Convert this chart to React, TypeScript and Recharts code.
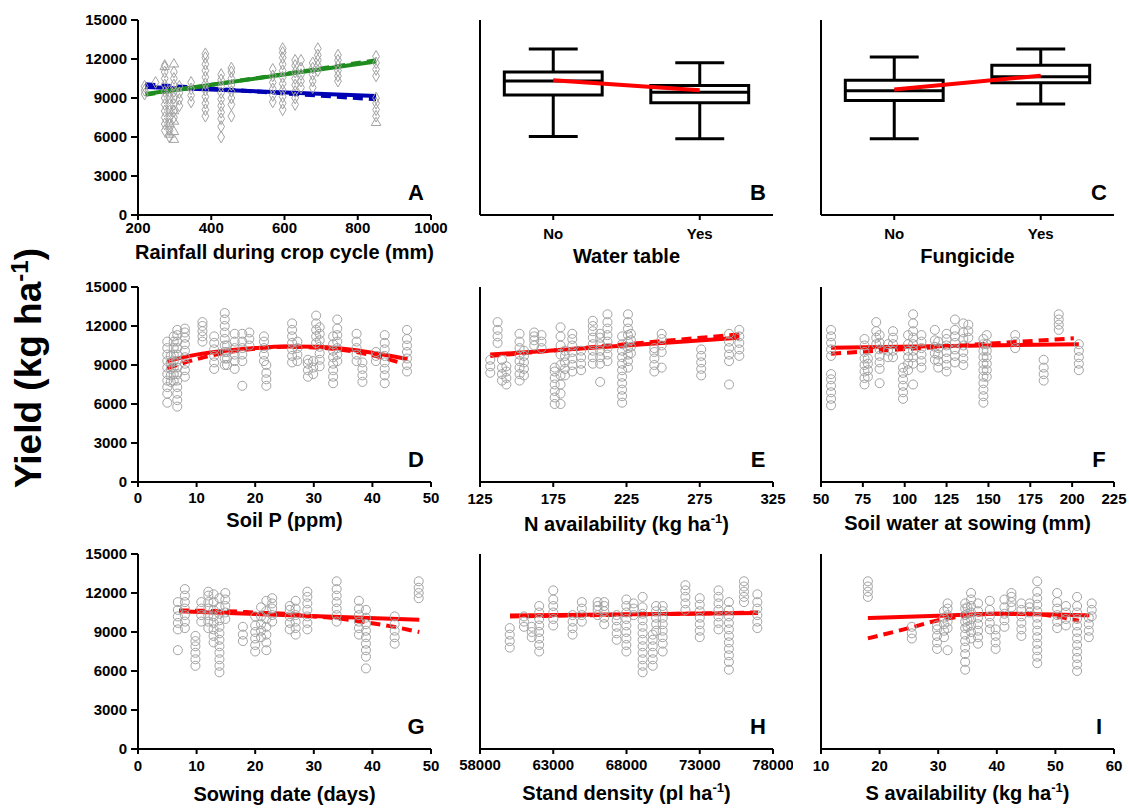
import React from "react";
import { ComposedChart, Scatter, Line, XAxis, YAxis, ZAxis, ReferenceArea, ReferenceLine } from "recharts";

type Cluster = [number, number[]];
type Pt = [number, number];

const FONT = '"Liberation Sans", Arial, sans-serif';
const COLS = [138, 480, 821];
const ROWS = [20, 287, 554];
const PW = 293;
const PH = 195;

const yieldTicks = [0, 3000, 6000, 9000, 12000, 15000];

// A: rainfall during crop cycle
const rainfallTicks = [200, 400, 600, 800, 1000];
const rainfallDiamonds: Cluster[] = [
  [218, [9300, 9600, 9900]],
  [248, [10200]],
  [273, [6500, 7000, 7500, 8000, 8500, 9000, 9500, 10000, 10500, 11000, 11500]],
  [286, [6000, 6500, 7000, 7500, 8000, 8500, 9000, 9500]],
  [298, [7500, 8000, 8500, 9000, 9500, 10000, 10500, 11000]],
  [313, [8400, 8900, 9400, 9900]],
  [345, [8700, 9200, 9700, 10200]],
  [384, [7600, 8100, 8600, 9100, 9600, 10100, 10600, 11100, 11600, 12100, 12400]],
  [427, [6000, 6800, 7400, 7900, 8400, 8900, 9400, 9900, 10400, 10800]],
  [455, [7600, 8500, 9000, 9500, 10000, 10500, 11000, 11300]],
  [568, [8700, 9200, 9700, 10200, 10700, 11200]],
  [595, [8100, 8600, 9100, 9600, 10100, 10600, 11100, 11600, 12100, 12500, 12800]],
  [629, [8500, 9000, 9500, 10000, 10500, 11000, 11500, 11900]],
  [645, [9800, 10300, 10800, 11300, 11900]],
  [677, [9800, 10300, 10800, 11300, 11700]],
  [691, [11100, 11500, 11900, 12300, 12800]],
  [746, [10300, 10700, 11100, 11500, 11900, 12300]],
  [850, [7600, 8100, 8600, 9000, 10700, 11200, 11700, 12200]],
];
const rainfallTriangles: Cluster[] = [
  [273, [11400]],
  [286, [6200, 7000]],
  [298, [5800, 6400, 7200, 8000, 11600]],
  [850, [7100]],
];
const rainfallGreen: Pt[] = [[220, 9300], [850, 11800]];
const rainfallGreenDash: Pt[] = [[220, 9250], [850, 11900]];
const rainfallBlue: Pt[] = [[220, 9850], [850, 9150]];
const rainfallBlueDash: Pt[] = [[220, 10050], [850, 8900]];

// B, C: box plots
const boxCategories = ["No", "Yes"];
const waterTableBoxes = [
  { min: 6030, q1: 9230, median: 10300, q3: 11000, max: 12770 },
  { min: 5870, q1: 8640, median: 9440, q3: 9970, max: 11720 },
];
const waterTableTrend = [10360, 9590];
const fungicideBoxes = [
  { min: 5870, q1: 8800, median: 9560, q3: 10360, max: 12150 },
  { min: 8540, q1: 10180, median: 10640, q3: 11510, max: 12770 },
];
const fungicideTrend = [9650, 10720];

// D: soil P
const soilPTicks = [0, 10, 20, 30, 40, 50];
const soilP: Cluster[] = [
  [5, [6100, 6800, 7300, 7800, 8300, 8800, 9300, 9800, 10300, 10800]],
  [5.6, [7700, 8200, 8700, 9200, 9700]],
  [6.1, [7800, 8300, 8800, 9300, 9800, 10300, 10800, 11200]],
  [6.7, [5800, 6300, 6800, 7300, 7800, 8300, 8800, 9300, 9800, 10300, 10800, 11300, 11700]],
  [8, [8100, 8600, 9100, 9600, 10100, 10600, 11100, 11500, 11800]],
  [11, [10800, 11200, 11600, 12000, 12300]],
  [13, [8700, 9200, 9700, 10200, 10700, 11200]],
  [14.8, [9000, 9500, 10000, 10500, 11000, 11500, 12000, 12500, 13000]],
  [15.2, [9000, 9500, 10000, 10500]],
  [16.5, [8700, 9300, 9800, 10300, 10800, 11400]],
  [17.8, [7400, 9300, 9800, 10300, 10800, 11400]],
  [19, [10500, 11000, 11500]],
  [21.5, [9300, 9800, 10300, 10800, 11200]],
  [21.9, [7400, 7900, 8400, 9000]],
  [26.3, [9200, 9700, 10200, 10700, 11200, 11700, 12200]],
  [27.2, [9300, 9800, 10300, 10800]],
  [29, [8100, 8600, 9100, 9400]],
  [29.9, [8300, 8800, 9300]],
  [30.4, [10700, 11200, 11700, 12200, 12800]],
  [31, [8900, 9400, 9900, 10400, 10900, 11400, 11900]],
  [33.3, [7600, 8100, 8600, 9100, 9600, 10100, 10600, 11200]],
  [34, [9300, 9800, 10300, 10800, 11300, 11800, 12500]],
  [37.3, [9300, 9800, 10300, 10800, 11400]],
  [38.3, [7700, 8200, 8700, 9200]],
  [40.6, [9300, 9700, 10000]],
  [42.1, [7600, 8200, 8700, 9200, 9700, 10200, 10700, 11300]],
  [45.9, [8500, 9000, 9500, 10000, 10500, 11000, 11700]],
];
const soilPFit: Pt[] = [[5, 9300], [10, 9800], [15, 10100], [20, 10300], [25, 10420], [30, 10400], [35, 10250], [40, 9950], [46, 9450]];
const soilPFitDash: Pt[] = [[5, 8750], [10, 9450], [15, 9950], [20, 10250], [25, 10400], [30, 10350], [35, 10150], [40, 9750], [45, 9150]];

// E: N availability
const nTicks = [125, 175, 225, 275, 325];
const nAvail: Cluster[] = [
  [132, [8400, 8900, 9400]],
  [137, [10700, 11200, 11700, 12300]],
  [140, [7800, 8300, 8800, 9400]],
  [143, [7500, 8000, 8500, 8900]],
  [152, [7800, 8300, 8800, 9300, 9800, 10300, 10800, 11400]],
  [155, [8200, 8700, 9200, 9700, 10100]],
  [162, [10500, 10900, 11200, 11500]],
  [167, [10300, 10800, 11300]],
  [176, [6000, 6500, 7000, 7500, 8000, 8500, 8800]],
  [180, [6000, 6800, 7500, 8200, 9000, 9800, 10500, 11200, 11900]],
  [183, [8200, 8700, 9200, 9700, 10100]],
  [188, [8500, 9000, 9500, 10000, 10500, 11000, 11400]],
  [194, [8600, 9100, 9600, 10100]],
  [202, [9100, 9600, 10100, 10600, 11100, 11600, 12000, 12400]],
  [207, [7700, 9100, 9600, 10100, 10600, 11100, 11400]],
  [212, [9300, 9800, 10300, 10800, 11300, 11800, 12300, 12900]],
  [222, [6100, 6600, 7100, 7600, 8100, 8600, 9100, 9600, 10100, 10600, 11200]],
  [226, [8800, 9300, 9800, 10300, 10800, 11300, 11800, 12300, 12900]],
  [228, [9900, 10400, 10900, 11400]],
  [244, [8500, 9000, 9500, 10000, 10300]],
  [249, [8800, 10000, 10500, 11000, 11400]],
  [276, [8200, 8700, 9200, 9700, 10200]],
  [295, [7500, 9300, 9800, 10300, 10800, 11400]],
  [302, [9700, 10200, 10700, 11200, 11700]],
];
const nFit: Pt[] = [[132, 9800], [302, 11100]];
const nFitDash: Pt[] = [[132, 9700], [302, 11350]];

// F: soil water at sowing
const swTicks = [50, 75, 100, 125, 150, 175, 200, 225];
const soilWater: Cluster[] = [
  [56, [5900, 6400, 6900, 7400, 7900, 8300, 9700, 10200, 10700, 11200, 11700]],
  [76, [7500, 8000, 8500, 9000, 9500, 10000, 10500, 11000]],
  [78, [8100, 8600, 9100, 9500]],
  [83, [10600, 11100, 11600, 12300]],
  [85, [7600, 8700, 9200, 9700, 10200, 10700, 11300]],
  [90, [9600, 10100, 10600]],
  [93, [9600, 10100, 10600, 11100, 11600]],
  [99, [6400, 6900, 7400, 7900, 8400, 8800]],
  [102, [8600, 9100, 9600, 10100, 10600, 11300]],
  [105, [7500, 9100, 9600, 10100, 10600, 11100, 11600, 12200, 12900]],
  [110, [8800, 9300, 9800, 10300, 10800, 11300]],
  [118, [9400, 9900, 10400, 10900, 11700]],
  [120, [8800, 9300, 9800, 10300, 10800]],
  [125, [8500, 9000, 9500, 10000, 10500, 11000, 11400]],
  [130, [9200, 9700, 10200, 10700, 11200, 11700, 12500]],
  [135, [9000, 9500, 10000, 10500, 11000, 11500, 12200]],
  [138, [11100, 11600, 12100]],
  [147, [6100, 6600, 7100, 7600, 8100, 8600, 9100, 9600, 10100, 10600, 11000]],
  [149, [8100, 8600, 9100, 9600, 10100, 10600, 11300]],
  [166, [10300, 10800, 11300]],
  [183, [7800, 8300, 8800, 9400]],
  [192, [11700, 12100, 12500, 12900]],
  [204, [8600, 9100, 9600, 10100, 10600]],
];
const swFit: Pt[] = [[56, 10330], [204, 10600]];
const swFitDash: Pt[] = [[56, 9870], [201, 11050]];

// G: sowing date
const sowTicks = [0, 10, 20, 30, 40, 50];
const sowing: Cluster[] = [
  [6.8, [7600, 9200, 9700, 10200, 10700, 11300]],
  [8, [9300, 9800, 10300, 10800, 11300, 11800, 12300]],
  [9.8, [6400, 6900, 7400, 7900, 8300, 8700]],
  [10.8, [9800, 10300, 10800, 11300]],
  [12, [9300, 9800, 10300, 10800, 11300, 11800, 12100]],
  [12.9, [8200, 8700, 9200, 9700, 10200, 10700, 11300, 11900]],
  [13.9, [5900, 6400, 6900, 7400, 7900, 8400, 8900, 9400, 9900, 10400, 10900, 11600]],
  [14.9, [10000, 10500, 11000, 11500, 12000]],
  [17.9, [8300, 8800, 9400]],
  [20, [7500, 8000, 8500, 9000, 9500, 10200]],
  [21, [8600, 9100, 9600, 10200, 10900]],
  [21.9, [7600, 8200, 8800, 9400, 10000, 10600, 11400]],
  [22.9, [9800, 10300, 10800, 11200, 11600]],
  [25.9, [9200, 9700, 10200, 10700, 11000]],
  [26.9, [8800, 9300, 9800, 10300, 10800, 11400]],
  [28.9, [9200, 9700, 10200, 10700, 11200, 11700, 12100]],
  [33.9, [9800, 10300, 10800, 11300, 11800, 12300, 12900]],
  [37.7, [8800, 9300, 9800, 10300, 10800, 11400]],
  [38.9, [6200, 7100, 7600, 8100, 8600, 9100, 9600, 10100, 10700]],
  [43.8, [8100, 8600, 9100, 9600, 10200]],
  [47.9, [11600, 12000, 12400, 12900]],
];
const sowFit: Pt[] = [[7, 10590], [48, 9950]];
const sowFitDash: Pt[] = [[7, 10650], [15, 10600], [20, 10500], [25, 10400], [30, 10200], [34, 10050], [38, 9800], [43, 9450], [48, 9000]];

// H: stand density
const densTicks = [58000, 63000, 68000, 73000, 78000];
const density: Cluster[] = [
  [60030, [7800, 8300, 8800, 9300]],
  [61000, [9400, 9800, 10200]],
  [61530, [8600, 9000, 9400]],
  [62040, [7500, 8000, 8500, 9000, 9500, 10000, 10500, 11000]],
  [63000, [9500, 10000, 10500, 11000, 11500, 12200]],
  [64320, [8800, 9300, 9800, 10300]],
  [64950, [9800, 10300, 10800, 11300]],
  [66030, [10300, 10700, 11000, 11300]],
  [66480, [9600, 10100, 10600, 11000, 11300]],
  [67330, [8400, 8900, 9400, 9900, 10300]],
  [67990, [7500, 8000, 8500, 9000, 9500, 10000, 10500, 11000, 11500]],
  [68490, [10300, 10800, 11200]],
  [69100, [5900, 6400, 6900, 7400, 7900, 8400, 8900, 9400, 9900, 10400, 10900, 11700]],
  [69790, [6400, 6900, 7400, 7900, 8400, 8800]],
  [70020, [9100, 9600, 10100, 10600, 11000]],
  [70470, [7500, 8100, 8600, 9100, 9600, 10100, 10600, 11000]],
  [72020, [10700, 11200, 11700, 12200, 12600]],
  [73000, [8600, 9100, 9600, 10100, 10600, 11100, 11600]],
  [74280, [9200, 9700, 10200, 10700, 11200, 11700, 12200]],
  [74990, [6100, 6700, 7200, 7700, 8200, 8700, 9200, 9700, 10200, 10700, 11300]],
  [76020, [11300, 11700, 12100, 12500, 12900]],
  [76930, [9300, 9800, 10300, 10800, 11300, 11900]],
];
const densFit: Pt[] = [[60050, 10260], [76970, 10460]];
const densFitDash: Pt[] = [[60050, 10200], [76970, 10500]];

// I: S availability
const sTicks = [10, 20, 30, 40, 50, 60];
const sAvail: Cluster[] = [
  [18, [11700, 12100, 12500, 12900]],
  [25.5, [8500, 8900, 9400]],
  [29.8, [7700, 8200, 8700, 9200, 9500]],
  [31, [8600, 9100, 9600, 10100, 10600]],
  [31.6, [7600, 9300, 9800, 10300, 10800, 11200]],
  [34.6, [6100, 6700, 7300, 7800, 8300, 8800, 9300, 9800, 10300, 10800, 11200]],
  [35, [9400, 9900, 10400, 10900]],
  [35.6, [8500, 9000, 9500, 10000, 10500, 11000, 11500, 12000]],
  [36.8, [8100, 8600, 9100, 9600, 10100, 10600, 11200]],
  [38.8, [9200, 9700, 10200, 10700, 11400]],
  [39.8, [7700, 8200, 8700, 9200]],
  [41.3, [9400, 9900, 10400, 10900, 11500]],
  [42.5, [10900, 11300, 11700, 12000]],
  [44.2, [8700, 9200, 9700, 10200, 10700, 11200]],
  [45.6, [10500, 10900, 11200]],
  [46.9, [6600, 7100, 7600, 8100, 8600, 9100, 9600, 10100, 10600, 11100, 11600, 12100, 12900]],
  [50.3, [9300, 9800, 10300, 10800, 11300, 12000]],
  [51.8, [9500, 10000, 10500, 11000]],
  [53.7, [6000, 6500, 7000, 7500, 8000, 8500, 9000, 9500, 10000, 10500, 11000, 11700]],
  [55.7, [8600, 9100, 9600, 10100]],
  [56.2, [10200, 10700, 11200]],
];
const sFit: Pt[] = [[18, 10080], [30, 10250], [40, 10400], [50, 10350], [55.8, 10280]];
const sFitDash: Pt[] = [[18, 8510], [25, 9300], [30, 9900], [35, 10250], [40, 10400], [45, 10400], [50, 10200], [54, 9870]];

const flat = (c: Cluster[]) => c.flatMap(([x, ys]) => ys.map((y) => ({ x, y })));
const pts = (p: Pt[]) => p.map(([x, y]) => ({ x, y }));

const GRAY = "#a3a3a3";
const RED = "#ff0000";
const axisStroke = { stroke: "#000", strokeWidth: 2 };
const tickStyle = { fontSize: 15, fontWeight: 700, fill: "#000", fontFamily: FONT };

const BOX = 0.334;
const CAP = 0.167;

function scatter(data: Cluster[], shape: any = "circle", zId = "z") {
  return (
    <Scatter
      data={flat(data)}
      dataKey="y"
      shape={shape}
      zAxisId={zId}
      fill="none"
      stroke={GRAY}
      strokeWidth={1}
      isAnimationActive={false}
    />
  );
}

function fitLine(data: Pt[], color: string, dashed = false) {
  return (
    <Line
      data={pts(data)}
      dataKey="y"
      type="monotone"
      stroke={color}
      strokeWidth={4}
      strokeDasharray={dashed ? "10 6" : undefined}
      dot={false}
      activeDot={false}
      isAnimationActive={false}
    />
  );
}

function boxes(stats: typeof waterTableBoxes, trend: number[]) {
  const els: React.ReactNode[] = [];
  stats.forEach((s, i) => {
    const c = i + 0.5;
    const line = { stroke: "#000", strokeWidth: 3 };
    els.push(<ReferenceLine key={`lw${i}`} segment={[{ x: c, y: s.min }, { x: c, y: s.q1 }]} {...line} />);
    els.push(<ReferenceLine key={`uw${i}`} segment={[{ x: c, y: s.q3 }, { x: c, y: s.max }]} {...line} />);
    els.push(<ReferenceLine key={`lc${i}`} segment={[{ x: c - CAP, y: s.min }, { x: c + CAP, y: s.min }]} {...line} />);
    els.push(<ReferenceLine key={`uc${i}`} segment={[{ x: c - CAP, y: s.max }, { x: c + CAP, y: s.max }]} {...line} />);
    els.push(
      <ReferenceArea key={`bx${i}`} x1={c - BOX} x2={c + BOX} y1={s.q1} y2={s.q3} fill="#fff" fillOpacity={1} {...line} />
    );
    els.push(<ReferenceLine key={`md${i}`} segment={[{ x: c - BOX, y: s.median }, { x: c + BOX, y: s.median }]} {...line} />);
  });
  els.push(
    <Line
      key="trend"
      data={trend.map((y, i) => ({ x: i + 0.5, y }))}
      dataKey="y"
      stroke={RED}
      strokeWidth={4}
      dot={false}
      activeDot={false}
      isAnimationActive={false}
    />
  );
  return els;
}

interface PanelProps {
  col: number;
  row: number;
  letter: string;
  title: React.ReactNode;
  titleBase: number;
  domain: number[];
  ticks: number[];
  tickMargin: number;
  fmt?: (v: number) => string;
  children: React.ReactNode;
}

function Panel({ col, row, letter, title, titleBase, domain, ticks, tickMargin, fmt, children }: PanelProps) {
  const left = COLS[col];
  const top = ROWS[row];
  return (
    <>
      <div style={{ position: "absolute", left: left - 60, top: top - 10 }}>
        <ComposedChart width={60 + PW + 20} height={10 + PH + 30} margin={{ top: 10, right: 20, bottom: 0, left: 0 }}>
          <XAxis
            type="number"
            dataKey="x"
            domain={domain}
            ticks={ticks}
            interval={0}
            allowDataOverflow
            height={30}
            tickSize={5}
            tickMargin={tickMargin}
            tickFormatter={fmt}
            axisLine={axisStroke}
            tickLine={axisStroke}
            tick={tickStyle}
          />
          <YAxis
            type="number"
            domain={[0, 15000]}
            ticks={yieldTicks}
            interval={0}
            allowDataOverflow
            width={60}
            tickSize={7}
            tickMargin={4}
            axisLine={axisStroke}
            tickLine={axisStroke}
            tick={col === 0 ? tickStyle : false}
          />
          <ZAxis zAxisId="z" range={[64, 64]} />
          <ZAxis zAxisId="sm" range={[40, 40]} />
          {children}
        </ComposedChart>
      </div>
      <div
        style={{
          position: "absolute",
          left: left + PW - 15,
          top: top + PH - 33,
          transform: "translateX(-50%)",
          fontSize: 22,
          lineHeight: "22px",
          fontWeight: 700,
        }}
      >
        {letter}
      </div>
      <div
        style={{
          position: "absolute",
          left: left + PW / 2,
          top: titleBase - 17,
          transform: "translateX(-50%)",
          fontSize: 20,
          lineHeight: "20px",
          fontWeight: 700,
          whiteSpace: "nowrap",
        }}
      >
        {title}
      </div>
    </>
  );
}

const sup = (t: string) => <sup style={{ fontSize: "0.65em", lineHeight: 0 }}>{t}</sup>;
const catFmt = (v: number) => boxCategories[Math.floor(v)];

export default function App() {
  return (
    <div
      style={{
        position: "absolute",
        left: 0,
        top: 0,
        width: 1129,
        height: 810,
        background: "#fff",
        fontFamily: FONT,
        color: "#000",
        overflow: "hidden",
      }}
    >
      <div
        style={{
          position: "absolute",
          left: 29,
          top: 368,
          transform: "translate(-50%, -50%) rotate(-90deg)",
          fontSize: 37,
          fontWeight: 700,
          whiteSpace: "nowrap",
        }}
      >
        Yield (kg ha{sup("-1")})
      </div>

      <Panel col={0} row={0} letter="A" title="Rainfall during crop cycle (mm)" titleBase={259} domain={[200, 1000]} ticks={rainfallTicks} tickMargin={2}>
        {scatter(rainfallDiamonds, "diamond", "sm")}
        {scatter(rainfallTriangles, "triangle", "sm")}
        {fitLine(rainfallBlueDash, "#0000b4", true)}
        {fitLine(rainfallBlue, "#0000b4")}
        {fitLine(rainfallGreenDash, "#1e8c1e", true)}
        {fitLine(rainfallGreen, "#1e8c1e")}
      </Panel>
      <Panel col={1} row={0} letter="B" title="Water table" titleBase={263} domain={[0, 2]} ticks={[0.5, 1.5]} tickMargin={8} fmt={catFmt}>
        {boxes(waterTableBoxes, waterTableTrend)}
      </Panel>
      <Panel col={2} row={0} letter="C" title="Fungicide" titleBase={263} domain={[0, 2]} ticks={[0.5, 1.5]} tickMargin={8} fmt={catFmt}>
        {boxes(fungicideBoxes, fungicideTrend)}
      </Panel>

      <Panel col={0} row={1} letter="D" title="Soil P (ppm)" titleBase={527} domain={[0, 50]} ticks={soilPTicks} tickMargin={5}>
        {scatter(soilP)}
        {fitLine(soilPFitDash, RED, true)}
        {fitLine(soilPFit, RED)}
      </Panel>
      <Panel col={1} row={1} letter="E" title={<>N availability (kg ha{sup("-1")})</>} titleBase={531} domain={[125, 325]} ticks={nTicks} tickMargin={6}>
        {scatter(nAvail)}
        {fitLine(nFitDash, RED, true)}
        {fitLine(nFit, RED)}
      </Panel>
      <Panel col={2} row={1} letter="F" title="Soil water at sowing (mm)" titleBase={530} domain={[50, 225]} ticks={swTicks} tickMargin={6}>
        {scatter(soilWater)}
        {fitLine(swFitDash, RED, true)}
        {fitLine(swFit, RED)}
      </Panel>

      <Panel col={0} row={2} letter="G" title="Sowing date (days)" titleBase={801} domain={[0, 50]} ticks={sowTicks} tickMargin={6}>
        {scatter(sowing)}
        {fitLine(sowFitDash, RED, true)}
        {fitLine(sowFit, RED)}
      </Panel>
      <Panel col={1} row={2} letter="H" title={<>Stand density (pl ha{sup("-1")})</>} titleBase={800} domain={[58000, 78000]} ticks={densTicks} tickMargin={5}>
        {scatter(density)}
        {fitLine(densFitDash, RED, true)}
        {fitLine(densFit, RED)}
      </Panel>
      <Panel col={2} row={2} letter="I" title={<>S availability (kg ha{sup("-1")})</>} titleBase={800} domain={[10, 60]} ticks={sTicks} tickMargin={6}>
        {scatter(sAvail)}
        {fitLine(sFitDash, RED, true)}
        {fitLine(sFit, RED)}
      </Panel>
    </div>
  );
}
